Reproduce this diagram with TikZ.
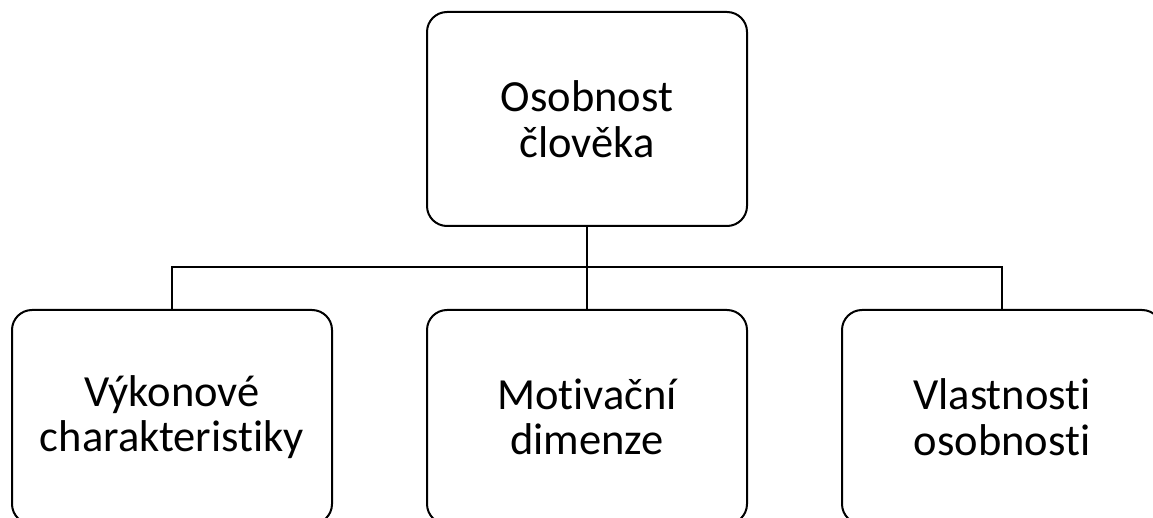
\documentclass[tikz,border=0pt]{standalone}
\usepackage{fontspec}
\setmainfont[Ligatures=NoCommon]{Carlito}
\begin{document}
\begin{tikzpicture}[x=1pt, y=-1pt,
  orgbox/.style={draw=black, line width=2pt, rounded corners=20pt, fill=white,
    minimum width=320pt, minimum height=214pt, align=center, inner sep=0pt,
    font=\fontsize{44.5}{45.5}\selectfont},
  link/.style={draw=black, line width=2pt}]
  \useasboundingbox (0,0) rectangle (1153,518);
  \clip (0,0) rectangle (1153,518);
  \fill[white] (0,0) rectangle (1153,518);
  % root and its three children
  \node[orgbox] (root) at (587,119) {Osobnost\\člověka};
  \node[orgbox] (perf) at (172,417) {Výkonové\\charakteristiky};
  \node[orgbox] (motiv) at (587,417) {Motivační\\dimenze};
  \node[orgbox] (trait) at (1002,417) {Vlastnosti\\osobnosti};
  % bus line joining the children
  \coordinate (bus) at (587,267);
  \draw[link] (root.south) -- (motiv.north);
  \draw[link] (perf.north) |- (bus) -| (trait.north);
\end{tikzpicture}
\end{document}
